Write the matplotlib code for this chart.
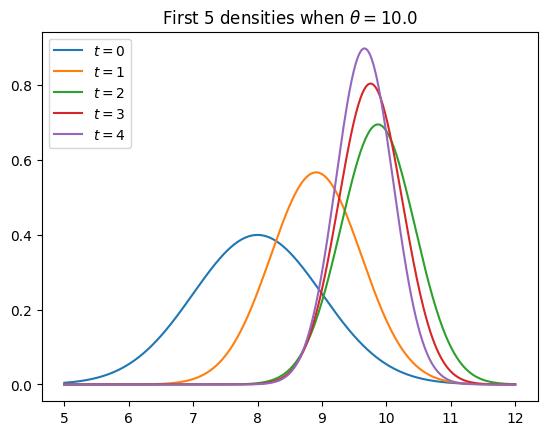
import numpy as np
import matplotlib.pyplot as plt

# medias y desviaciones
theta = 10.0
medias = [8.0, 8.91, 9.87, 9.755, 9.66]
desvios = [1.0, 0.705, 0.575, 0.497, 0.445]
etiquetas = ['$t=0$', '$t=1$', '$t=2$', '$t=3$', '$t=4$']

x = np.linspace(5, 12, 400)

fig, ax = plt.subplots(figsize=(6.4, 4.8), dpi=100)
for m, s, lab in zip(medias, desvios, etiquetas):
    y = np.exp(-0.5 * ((x - m) / s) ** 2) / (s * np.sqrt(2 * np.pi))
    ax.plot(x, y, label=lab)

ax.set_title(rf'First 5 densities when $\theta = {theta}$')
ax.legend(loc='upper left')
fig.savefig('out.png', bbox_inches='tight')
